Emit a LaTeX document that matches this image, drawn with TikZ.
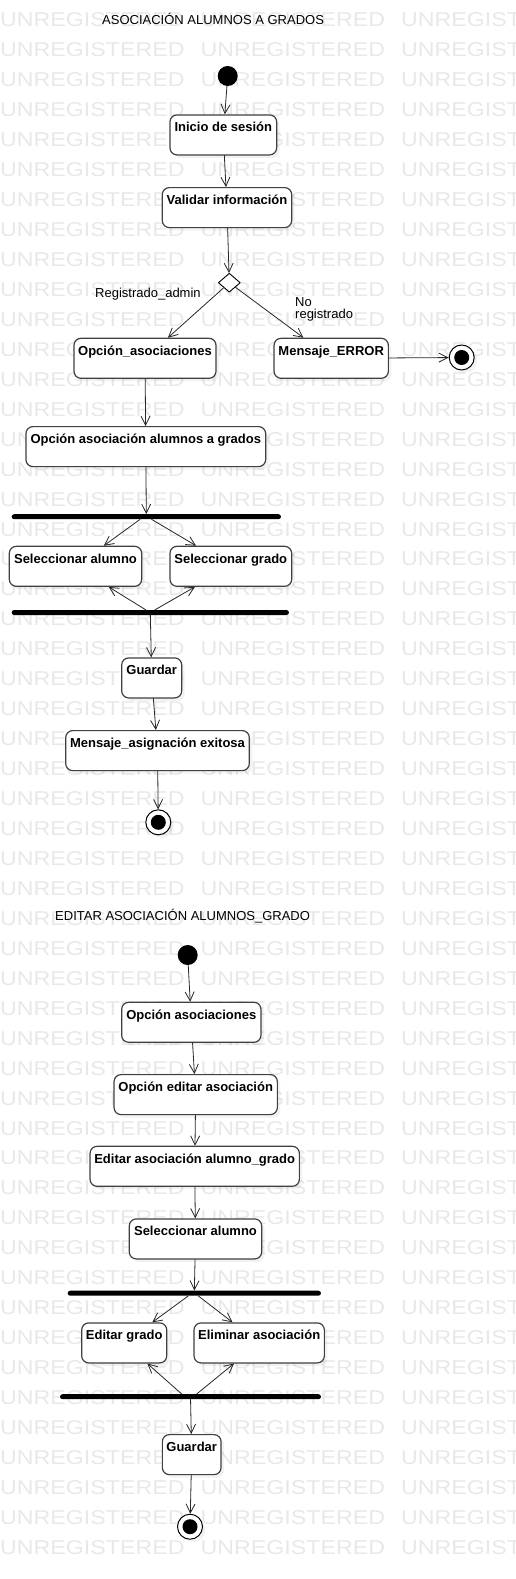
\documentclass[tikz,border=0pt]{standalone}
\usepackage{fontspec}
\setmainfont{Liberation Sans}
\newfontfamily\wmfont[FakeStretch=1.16]{Liberation Sans}
\usetikzlibrary{shapes.geometric,arrows.meta,shadows}

\begin{document}
\begin{tikzpicture}[x=1pt, y=-1pt, line join=round, line cap=round,
    act/.style={draw=black!75, line width=1.2pt, rounded corners=7pt, fill=white, anchor=north,
        inner xsep=2pt, inner ysep=3pt, text height=14pt, text depth=20pt,
        font=\bfseries\fontsize{13}{15}\selectfont,
        drop shadow={shadow xshift=3pt, shadow yshift=-3pt, opacity=0.10}},
    start/.style={circle, fill=black, minimum size=20pt, inner sep=0pt},
    stop/.style={circle, draw=black, line width=1pt, fill=white, minimum size=25pt, inner sep=0pt,
        drop shadow={shadow xshift=3pt, shadow yshift=-3pt, opacity=0.10}},
    stopdot/.style={circle, fill=black, minimum size=15pt, inner sep=0pt},
    bar/.style={fill=black, rounded corners=2.5pt, minimum height=5pt, inner sep=0pt},
    dec/.style={diamond, draw=black, line width=0.9pt, fill=white, minimum width=22pt, minimum height=19pt, inner sep=0pt},
    flow/.style={draw=black!85, line width=0.8pt, -{Straight Barb[length=9pt,width=9pt]}},
    guard/.style={font=\fontsize{13}{12}\selectfont, inner sep=0pt},
    wmark/.style={font=\wmfont\fontsize{20}{20}\selectfont, text=black!9, inner sep=0pt, anchor=west}]
    \useasboundingbox (0,0) rectangle (515,1579);
    % marca de agua
    \begin{scope}
        \clip (0,0) rectangle (515,1579);
        \foreach \r in {0,...,51}
            \foreach \c in {0,1,2}
                \node[wmark] at (\c*200.5, 20+\r*29.95) {UNREGISTERED};
    \end{scope}

    % ASOCIACION ALUMNOS A GRADOS
    \node[guard, anchor=base west] (tit1) at (102,25) {ASOCIACIÓN ALUMNOS A GRADOS};
    \node[start] (init1) at (227.7,76) {};
    \node[act, minimum width=106.7pt] (inicio) at (223.3,114.3) {Inicio de sesión};
    \node[act, minimum width=129.4pt] (validar) at (227,187) {Validar información};
    \node[dec] (dec) at (229.3,282.7) {};
    \node[act, minimum width=142pt] (opcasoc) at (145,337.7) {Opción\_asociaciones};
    \node[act, minimum width=114.3pt] (error) at (331.2,337.7) {Mensaje\_ERROR};
    \node[stop] (fin1) at (461.7,357.5) {};
    \node[stopdot] at (fin1.center) {};
    \node[act, minimum width=239.7pt] (opcalum) at (145.8,426) {Opción asociación alumnos a grados};
    \node[bar, minimum width=269.3pt] (fork1) at (146.3,516.7) {};
    \node[act, minimum width=132.4pt] (selalum) at (75.5,545.7) {Seleccionar alumno};
    \node[act, minimum width=121.7pt] (selgrado) at (230.8,545.7) {Seleccionar grado};
    \node[bar, minimum width=277.3pt] (join1) at (150.3,612.5) {};
    \node[act, minimum width=60pt] (guardar) at (151.7,657.3) {Guardar};
    \node[act, minimum width=183.6pt] (mensaje) at (157.5,730) {Mensaje\_asignación exitosa};
    \node[stop] (fin2) at (158.3,822.3) {};
    \node[stopdot] at (fin2.center) {};

    \node[guard, anchor=base west] (reg) at (95,297.3) {Registrado\_admin};
    \node[guard, anchor=north west, align=left] (noreg) at (295,297.5) {No\\registrado};

    \draw[flow] (init1) -- (inicio);
    \draw[flow] (inicio) -- (validar);
    \draw[flow] (validar) -- (dec);
    \draw[flow] (dec) -- (opcasoc);
    \draw[flow] (dec) -- (error);
    \draw[flow] (error) -- (fin1);
    \draw[flow] (opcasoc) -- (opcalum);
    \draw[flow] (opcalum) -- (fork1);
    \draw[flow] ([xshift=-6.3pt]fork1.south) -- (selalum);
    \draw[flow] ([xshift=5.4pt]fork1.south) -- (selgrado);
    \draw[flow] ([xshift=-4.6pt]join1.north) -- (selalum);
    \draw[flow] ([xshift=4.7pt]join1.north) -- (selgrado);
    \draw[flow] (join1) -- (guardar);
    \draw[flow] (guardar) -- (mensaje);
    \draw[flow] (mensaje) -- (fin2);

    % EDITAR ASOCIACION ALUMNOS_GRADO
    \node[guard, anchor=base west] (tit2) at (55,920) {EDITAR ASOCIACIÓN ALUMNOS\_GRADO};
    \node[start] (init2) at (187.7,955) {};
    \node[act, minimum width=139.3pt] (opcasoc2) at (191.3,1001.7) {Opción asociaciones};
    \node[act, minimum width=163.3pt] (opcedit) at (195.7,1074) {Opción editar asociación};
    \node[act, minimum width=209.3pt] (editasoc) at (194.7,1145.7) {Editar asociación alumno\_grado};
    \node[act, minimum width=132.4pt] (selalum2) at (195.5,1218.3) {Seleccionar alumno};
    \node[bar, minimum width=253.3pt] (fork2) at (194.3,1293.2) {};
    \node[act, minimum width=85pt] (editgrado) at (124.2,1322.3) {Editar grado};
    \node[act, minimum width=130.3pt] (eliminar) at (259.2,1322.3) {Eliminar asociación};
    \node[bar, minimum width=261pt] (join2) at (190.5,1396.7) {};
    \node[act, minimum width=58.7pt] (guardar2) at (191.7,1434) {Guardar};
    \node[stop] (fin3) at (190,1526.7) {};
    \node[stopdot] at (fin3.center) {};

    \draw[flow] (init2) -- (opcasoc2);
    \draw[flow] (opcasoc2) -- (opcedit);
    \draw[flow] (opcedit) -- (editasoc);
    \draw[flow] (editasoc) -- (selalum2);
    \draw[flow] (selalum2) -- (fork2);
    \draw[flow] ([xshift=-6pt]fork2.south) -- (editgrado);
    \draw[flow] ([xshift=4pt]fork2.south) -- (eliminar);
    \draw[flow] ([xshift=-8.8pt]join2.north) -- (editgrado);
    \draw[flow] ([xshift=6.2pt]join2.north) -- (eliminar);
    \draw[flow] (join2) -- (guardar2);
    \draw[flow] (guardar2) -- (fin3);
\end{tikzpicture}
\end{document}
